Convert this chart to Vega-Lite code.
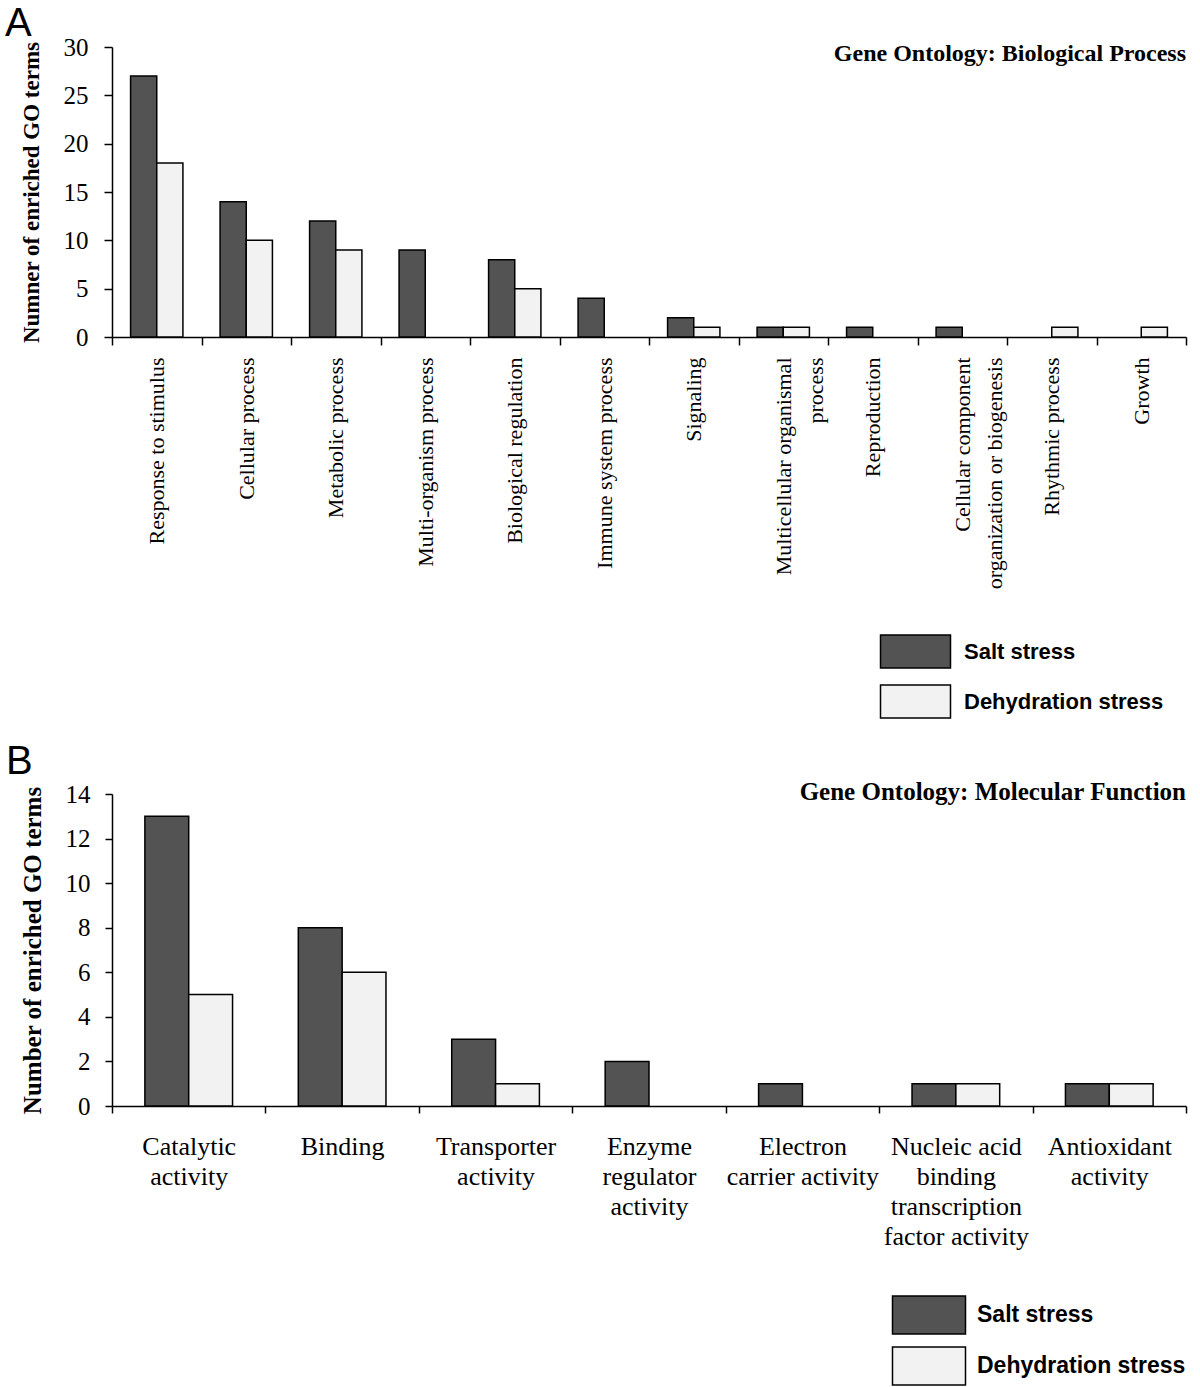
{
  "$schema": "https://vega.github.io/schema/vega-lite/v6.json",
  "background": "white",
  "padding": {"left": 4, "top": 4, "right": 5, "bottom": 0},
  "spacing": 21,
  "config": {
    "view": {"stroke": null},
    "font": "Liberation Serif",
    "axis": {
      "grid": false,
      "domainColor": "black",
      "domainWidth": 1.5,
      "tickColor": "black",
      "tickWidth": 1.5,
      "tickSize": 7,
      "labelColor": "black",
      "titleColor": "black",
      "labelFont": "Liberation Serif",
      "titleFont": "Liberation Serif",
      "titleFontWeight": "bold",
      "labelOverlap": false,
      "labelBound": false,
      "labelLimit": 500
    },
    "legend": {
      "orient": "none",
      "title": null,
      "padding": 0,
      "labelFont": "Liberation Sans",
      "labelFontWeight": "bold",
      "labelColor": "black",
      "labelLimit": 400,
      "symbolStrokeColor": "black",
      "symbolStrokeWidth": 1.5,
      "symbolOpacity": 1
    },
    "title": {"color": "black"}
  },
  "resolve": {
    "scale": {"color": "independent", "x": "independent", "y": "independent", "xOffset": "independent"},
    "legend": {"color": "independent"}
  },
  "vconcat": [
    {
      "title": {"text": "A", "anchor": "start", "font": "Liberation Sans", "fontSize": 40, "fontWeight": "normal", "dx": -15, "offset": -9},
      "vconcat": [
        {
          "width": 1074,
          "height": 290,
          "title": {"text": "Gene Ontology: Biological Process", "anchor": "end", "frame": "group", "offset": -31, "font": "Liberation Serif", "fontSize": 24, "fontWeight": "bold"},
          "data": {
            "values": [
              {"process": "Response to stimulus", "stress": "Salt stress", "count": 27},
              {"process": "Response to stimulus", "stress": "Dehydration stress", "count": 18},
              {"process": "Cellular process", "stress": "Salt stress", "count": 14},
              {"process": "Cellular process", "stress": "Dehydration stress", "count": 10},
              {"process": "Metabolic process", "stress": "Salt stress", "count": 12},
              {"process": "Metabolic process", "stress": "Dehydration stress", "count": 9},
              {"process": "Multi-organism process", "stress": "Salt stress", "count": 9},
              {"process": "Biological regulation", "stress": "Salt stress", "count": 8},
              {"process": "Biological regulation", "stress": "Dehydration stress", "count": 5},
              {"process": "Immune system process", "stress": "Salt stress", "count": 4},
              {"process": "Signaling", "stress": "Salt stress", "count": 2},
              {"process": "Signaling", "stress": "Dehydration stress", "count": 1},
              {"process": "Multicellular organismal process", "stress": "Salt stress", "count": 1},
              {"process": "Multicellular organismal process", "stress": "Dehydration stress", "count": 1},
              {"process": "Reproduction", "stress": "Salt stress", "count": 1},
              {"process": "Cellular component organization or biogenesis", "stress": "Salt stress", "count": 1},
              {"process": "Rhythmic process", "stress": "Dehydration stress", "count": 1},
              {"process": "Growth", "stress": "Dehydration stress", "count": 1}
            ]
          },
          "mark": {"type": "bar", "stroke": "black", "strokeWidth": 1.5},
          "encoding": {
            "x": {
              "field": "process",
              "type": "nominal",
              "sort": ["Response to stimulus", "Cellular process", "Metabolic process", "Multi-organism process", "Biological regulation", "Immune system process", "Signaling", "Multicellular organismal process", "Reproduction", "Cellular component organization or biogenesis", "Rhythmic process", "Growth"],
              "scale": {"paddingInner": 0, "paddingOuter": 0},
              "axis": {
                "title": null,
                "tickBand": "extent",
                "tickSize": 8,
                "labelAngle": -90,
                "labelFontSize": 22,
                "labelPadding": 12,
                "labelLineHeight": 32,
                "labelExpr": "datum.value == 'Multicellular organismal process' ? ['Multicellular organismal', 'process'] : datum.value == 'Cellular component organization or biogenesis' ? ['Cellular component', 'organization or biogenesis'] : datum.value"
              }
            },
            "xOffset": {
              "field": "stress",
              "type": "nominal",
              "sort": ["Salt stress", "Dehydration stress"],
              "scale": {"domain": ["Salt stress", "Dehydration stress"], "paddingInner": 0, "paddingOuter": 0.71}
            },
            "y": {
              "field": "count",
              "type": "quantitative",
              "scale": {"domain": [0, 30]},
              "axis": {"title": "Numner of enriched GO terms", "values": [0, 5, 10, 15, 20, 25, 30], "tickSize": 8, "labelFontSize": 25, "titleFontSize": 23, "labelPadding": 16, "titlePadding": 20}
            },
            "color": {
              "field": "stress",
              "type": "nominal",
              "scale": {"domain": ["Salt stress", "Dehydration stress"], "range": ["#535353", "#f2f2f2"]},
              "legend": {
                "legendX": 786,
                "legendY": 587,
                "symbolType": "M-2.121,-1H2.121V1H-2.121Z",
                "symbolSize": 1089,
                "labelFontSize": 22,
                "labelOffset": 31,
                "rowPadding": 11
              }
            }
          }
        }
      ]
    },
    {
      "title": {"text": "B", "anchor": "start", "font": "Liberation Sans", "fontSize": 40, "fontWeight": "normal", "dx": -14, "offset": -2},
      "vconcat": [
        {
          "width": 1074,
          "height": 312,
          "title": {"text": "Gene Ontology: Molecular Function", "anchor": "end", "frame": "group", "offset": -23, "font": "Liberation Serif", "fontSize": 25, "fontWeight": "bold"},
          "data": {
            "values": [
              {"function": "Catalytic activity", "stress": "Salt stress", "count": 13},
              {"function": "Catalytic activity", "stress": "Dehydration stress", "count": 5},
              {"function": "Binding", "stress": "Salt stress", "count": 8},
              {"function": "Binding", "stress": "Dehydration stress", "count": 6},
              {"function": "Transporter activity", "stress": "Salt stress", "count": 3},
              {"function": "Transporter activity", "stress": "Dehydration stress", "count": 1},
              {"function": "Enzyme regulator activity", "stress": "Salt stress", "count": 2},
              {"function": "Electron carrier activity", "stress": "Salt stress", "count": 1},
              {"function": "Nucleic acid binding transcription factor activity", "stress": "Salt stress", "count": 1},
              {"function": "Nucleic acid binding transcription factor activity", "stress": "Dehydration stress", "count": 1},
              {"function": "Antioxidant activity", "stress": "Salt stress", "count": 1},
              {"function": "Antioxidant activity", "stress": "Dehydration stress", "count": 1}
            ]
          },
          "mark": {"type": "bar", "stroke": "black", "strokeWidth": 1.5},
          "encoding": {
            "x": {
              "field": "function",
              "type": "nominal",
              "sort": ["Catalytic activity", "Binding", "Transporter activity", "Enzyme regulator activity", "Electron carrier activity", "Nucleic acid binding transcription factor activity", "Antioxidant activity"],
              "scale": {"paddingInner": 0, "paddingOuter": 0},
              "axis": {
                "title": null,
                "tickBand": "extent",
                "labelAngle": 0,
                "labelFontSize": 26,
                "labelPadding": 20,
                "labelLineHeight": 30,
                "labelExpr": "datum.value == 'Catalytic activity' ? ['Catalytic', 'activity'] : datum.value == 'Transporter activity' ? ['Transporter', 'activity'] : datum.value == 'Enzyme regulator activity' ? ['Enzyme', 'regulator', 'activity'] : datum.value == 'Electron carrier activity' ? ['Electron', 'carrier activity'] : datum.value == 'Nucleic acid binding transcription factor activity' ? ['Nucleic acid', 'binding', 'transcription', 'factor activity'] : datum.value == 'Antioxidant activity' ? ['Antioxidant', 'activity'] : datum.value"
              }
            },
            "xOffset": {
              "field": "stress",
              "type": "nominal",
              "sort": ["Salt stress", "Dehydration stress"],
              "scale": {"domain": ["Salt stress", "Dehydration stress"], "paddingInner": 0, "paddingOuter": 0.75}
            },
            "y": {
              "field": "count",
              "type": "quantitative",
              "scale": {"domain": [0, 14]},
              "axis": {"title": "Number of enriched GO terms", "values": [0, 2, 4, 6, 8, 10, 12, 14], "labelFontSize": 25, "titleFontSize": 25, "labelPadding": 15, "titlePadding": 20}
            },
            "color": {
              "field": "stress",
              "type": "nominal",
              "scale": {"domain": ["Salt stress", "Dehydration stress"], "range": ["#535353", "#f2f2f2"]},
              "legend": {
                "legendX": 797,
                "legendY": 501,
                "symbolType": "M-1.921,-1H1.921V1H-1.921Z",
                "symbolSize": 1444,
                "labelFontSize": 23,
                "labelOffset": 28,
                "rowPadding": 7
              }
            }
          }
        }
      ]
    }
  ]
}
